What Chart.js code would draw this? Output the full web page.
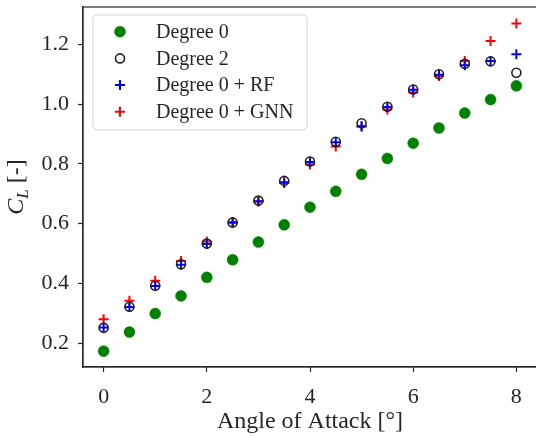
<!DOCTYPE html>
<html>
<head>
<meta charset="utf-8">
<script src="https://cdn.jsdelivr.net/npm/chart.js@4.4.1/dist/chart.umd.min.js"></script>
<style>
  html, body { margin: 0; padding: 0; background: #fff; overflow: hidden; }
  #wrap { width: 544px; height: 436px; }
</style>
</head>
<body>
<div id="wrap"><canvas id="clChart" width="544" height="436"></canvas></div>
<script>
// angle of attack [deg]
const angles = [0, 0.5, 1, 1.5, 2, 2.5, 3, 3.5, 4, 4.5, 5, 5.5, 6, 6.5, 7, 7.5, 8];

// lift coefficient per model
const degree0 = [0.173, 0.237, 0.299, 0.358, 0.420, 0.479, 0.538, 0.596, 0.655, 0.708, 0.765, 0.818, 0.869, 0.920, 0.970, 1.015, 1.061];
const degree2 = [0.251, 0.322, 0.392, 0.464, 0.533, 0.604, 0.677, 0.743, 0.808, 0.874, 0.936, 0.991, 1.049, 1.100, 1.135, 1.143, 1.105];
const degree0RF = [0.252, 0.321, 0.391, 0.462, 0.532, 0.603, 0.675, 0.738, 0.806, 0.872, 0.926, 0.990, 1.048, 1.098, 1.130, 1.144, 1.167];
const degree0GNN = [0.280, 0.342, 0.409, 0.475, 0.540, 0.605, 0.674, 0.736, 0.798, 0.858, 0.925, 0.982, 1.039, 1.094, 1.144, 1.211, 1.270];

const xTicks = [0, 2, 4, 6, 8];
const yTicks = [0.2, 0.4, 0.6, 0.8, 1.0, 1.2];

const FONT = "'Liberation Serif', 'DejaVu Serif', serif";
const INK = "#262626";

function pts(ys) {
  return angles.map((a, i) => ({ x: a, y: ys[i] }));
}

// axes box (top/right spines) like matplotlib
const boxPlugin = {
  id: "box",
  afterDraw(chart) {
    const { ctx, chartArea: a } = chart;
    ctx.save();
    ctx.strokeStyle = INK;
    ctx.lineWidth = 1.2;
    ctx.strokeRect(a.left, a.top, a.right - a.left, a.bottom - a.top);
    ctx.restore();
  }
};

// legend box inside the axes, upper left
const legendPlugin = {
  id: "innerLegend",
  afterDraw(chart) {
    const ctx = chart.ctx;
    const x0 = 93, y0 = 15, w = 214, h = 115, r = 4;
    ctx.save();
    ctx.beginPath();
    ctx.roundRect(x0, y0, w, h, r);
    ctx.fillStyle = "rgba(255,255,255,0.8)";
    ctx.fill();
    ctx.strokeStyle = "#d6d6d6";
    ctx.lineWidth = 1;
    ctx.stroke();

    chart.data.datasets.forEach((ds, i) => {
      const cy = 31.7 + i * 26.7;
      ctx.fillStyle = ds.backgroundColor;
      ctx.strokeStyle = ds.borderColor;
      ctx.lineWidth = ds.borderWidth;
      Chart.helpers.drawPoint(ctx, {
        pointStyle: ds.pointStyle,
        radius: ds.pointRadius,
        borderWidth: ds.borderWidth,
        rotation: 0
      }, 120, cy);
      ctx.fillStyle = INK;
      ctx.font = "20px " + FONT;
      ctx.textBaseline = "middle";
      ctx.textAlign = "left";
      ctx.fillText(ds.label, 156, cy + 1);
    });
    ctx.restore();
  }
};

// y axis title with subscript: C_L [-]
const yTitlePlugin = {
  id: "yTitle",
  afterDraw(chart) {
    const ctx = chart.ctx;
    const a = chart.chartArea;
    const parts = [
      { t: "C", f: "italic 24px " + FONT, dy: 0 },
      { t: "L", f: "italic 17px " + FONT, dy: 5 },
      { t: " [-]", f: "24px " + FONT, dy: 0 }
    ];
    ctx.save();
    let total = 0;
    parts.forEach(p => { ctx.font = p.f; p.w = ctx.measureText(p.t).width; total += p.w; });
    ctx.translate(23, (a.top + a.bottom) / 2);
    ctx.rotate(-Math.PI / 2);
    ctx.fillStyle = INK;
    ctx.textBaseline = "alphabetic";
    let x = -total / 2;
    parts.forEach(p => {
      ctx.font = p.f;
      ctx.fillText(p.t, x, 0 + p.dy);
      x += p.w;
    });
    ctx.restore();
  }
};

new Chart(document.getElementById("clChart"), {
  type: "scatter",
  data: {
    datasets: [
      {
        label: "Degree 0",
        data: pts(degree0),
        pointStyle: "circle",
        pointRadius: 5.5,
        backgroundColor: "#008000",
        borderColor: "#008000",
        borderWidth: 0.5
      },
      {
        label: "Degree 2",
        data: pts(degree2),
        pointStyle: "circle",
        pointRadius: 4.5,
        backgroundColor: "rgba(0,0,0,0)",
        borderColor: "#222222",
        borderWidth: 1.6
      },
      {
        label: "Degree 0 + RF",
        data: pts(degree0RF),
        pointStyle: "cross",
        pointRadius: 5,
        backgroundColor: "#0000ff",
        borderColor: "#0000ff",
        borderWidth: 2
      },
      {
        label: "Degree 0 + GNN",
        data: pts(degree0GNN),
        pointStyle: "cross",
        pointRadius: 5,
        backgroundColor: "#ff0000",
        borderColor: "#ff0000",
        borderWidth: 2
      }
    ]
  },
  options: {
    responsive: false,
    animation: false,
    layout: { padding: { left: 0, top: 5, right: 0, bottom: 0 } },
    plugins: {
      legend: { display: false },
      tooltip: { enabled: false }
    },
    scales: {
      x: {
        type: "linear",
        min: -0.4,
        max: 8.4,
        afterBuildTicks: s => { s.ticks = xTicks.map(v => ({ value: v })); },
        afterFit: s => { s.height = 69; },
        grid: { display: true, drawOnChartArea: false, drawTicks: true, tickLength: 5, tickWidth: 1.2, tickColor: INK },
        border: { display: true, color: INK, width: 1.2 },
        ticks: {
          color: INK,
          font: { family: FONT, size: 22 },
          padding: 12,
          maxRotation: 0,
          callback: v => String(v)
        },
        title: {
          display: true,
          text: "Angle of Attack [°]",
          color: INK,
          font: { family: FONT, size: 24 },
          padding: { top: 0, bottom: 0 }
        }
      },
      y: {
        type: "linear",
        min: 0.12,
        max: 1.325,
        afterBuildTicks: s => { s.ticks = yTicks.map(v => ({ value: v })); },
        afterFit: s => { s.width = 83; s.paddingTop = 0; s.paddingBottom = 0; },
        grid: { display: true, drawOnChartArea: false, drawTicks: true, tickLength: 5, tickWidth: 1.2, tickColor: INK },
        border: { display: true, color: INK, width: 1.2 },
        ticks: {
          color: INK,
          font: { family: FONT, size: 22 },
          padding: 9,
          callback: v => v.toFixed(1)
        }
      }
    }
  },
  plugins: [boxPlugin, legendPlugin, yTitlePlugin]
});
</script>
</body>
</html>
